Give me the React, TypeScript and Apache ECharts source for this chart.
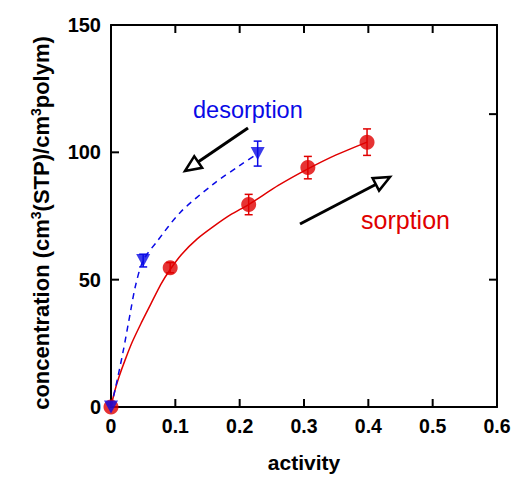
import React, { useEffect, useRef } from "react";
import * as echarts from "echarts";

// Measured sorption / desorption points: activity, concentration, error
const sorptionX = [0, 0.092, 0.214, 0.306, 0.398];
const sorptionY = [0, 54.7, 79.5, 94.0, 104.0];
const sorptionErr = [0, 2.0, 4.0, 4.4, 5.2];

const desorptionX = [0, 0.05, 0.228];
const desorptionY = [0, 57.5, 99.5];
const desorptionErr = [0, 2.5, 4.9];

// Fitted model curves
const sorptionFitX = [0, 0.005, 0.012, 0.022, 0.033, 0.047, 0.062, 0.077, 0.092, 0.11, 0.134, 0.16, 0.186, 0.214, 0.26, 0.306, 0.35, 0.398];
const sorptionFitY = [0, 5.5, 11.5, 18.5, 25.5, 33, 40.5, 48, 54, 60, 66, 71, 75.5, 79.5, 87, 93.5, 99, 104];

const desorptionFitX = [0, 0.007, 0.019, 0.03, 0.038, 0.05, 0.0715, 0.108, 0.159, 0.201, 0.228];
const desorptionFitY = [0, 7.5, 22, 37, 47.5, 57.5, 65, 76.5, 87.5, 95, 99.5];

// Inward frame ticks
const xTickValues = [0.1, 0.2, 0.3, 0.4, 0.5];
const leftTickValues = [50, 100];
const rightTickValues = [50, 115];

const RED = "#e00000";
const BLUE = "#0a0ae6";
const FONT = "Liberation Sans, Arial, Helvetica, sans-serif";
const X_MIN = 0;
const X_MAX = 0.6;
const Y_MIN = 0;
const Y_MAX = 150;

const zip = (xs: number[], ys: number[]) => xs.map((x, i) => [x, ys[i]]);
const zip3 = (xs: number[], ys: number[], es: number[]) =>
  xs.map((x, i) => [x, ys[i], es[i]]);

function errorBars(name: string, data: number[][], color: string) {
  return {
    name,
    type: "custom",
    xAxisIndex: 0,
    yAxisIndex: 0,
    clip: false,
    z: 3,
    data: data.filter((d) => d[2] > 0),
    renderItem: (_params: any, api: any) => {
      const x = api.value(0);
      const y = api.value(1);
      const e = api.value(2);
      const top = api.coord([x, y + e]);
      const bot = api.coord([x, y - e]);
      const hw = 4;
      const st = { stroke: color, lineWidth: 1.5 };
      return {
        type: "group",
        children: [
          { type: "line", shape: { x1: top[0], y1: top[1], x2: bot[0], y2: bot[1] }, style: st },
          { type: "line", shape: { x1: top[0] - hw, y1: top[1], x2: top[0] + hw, y2: top[1] }, style: st },
          { type: "line", shape: { x1: bot[0] - hw, y1: bot[1], x2: bot[0] + hw, y2: bot[1] }, style: st },
        ],
      };
    },
  };
}

// Tick marks drawn inward from the frame. Each datum: [x, y, dx, dy]
function frameTicks() {
  const data: number[][] = [];
  xTickValues.forEach((v) => {
    data.push([v, Y_MIN, 0, -1]);
    data.push([v, Y_MAX, 0, 1]);
  });
  leftTickValues.forEach((v) => data.push([X_MIN, v, 1, 0]));
  rightTickValues.forEach((v) => data.push([X_MAX, v, -1, 0]));
  return {
    name: "frame ticks",
    type: "custom",
    xAxisIndex: 0,
    yAxisIndex: 0,
    clip: false,
    silent: true,
    z: 6,
    data,
    renderItem: (_params: any, api: any) => {
      const p = api.coord([api.value(0), api.value(1)]);
      const L = 8;
      return {
        type: "line",
        shape: { x1: p[0], y1: p[1], x2: p[0] + api.value(2) * L, y2: p[1] + api.value(3) * L },
        style: { stroke: "#000", lineWidth: 2 },
      };
    },
  };
}

function arrow(tail: number[], tip: number[]) {
  const dx = tip[0] - tail[0];
  const dy = tip[1] - tail[1];
  const len = Math.hypot(dx, dy);
  const ux = dx / len;
  const uy = dy / len;
  const nx = -uy;
  const ny = ux;
  const L = 16;
  const W = 7;
  const bx = tip[0] - ux * L;
  const by = tip[1] - uy * L;
  return [
    {
      type: "line",
      shape: { x1: tail[0], y1: tail[1], x2: bx + ux * 2, y2: by + uy * 2 },
      style: { stroke: "#000", lineWidth: 3 },
    },
    {
      type: "polygon",
      shape: {
        points: [
          [tip[0], tip[1]],
          [bx + nx * W, by + ny * W],
          [bx - nx * W, by - ny * W],
        ],
      },
      style: { fill: "#fff", stroke: "#000", lineWidth: 2.5, lineJoin: "miter" },
    },
  ];
}

export default function App() {
  const ref = useRef<HTMLDivElement>(null);

  useEffect(() => {
    if (!ref.current) return;
    const chart = echarts.init(ref.current, null, { renderer: "svg" });

    const mkLine = () => ({ show: true, onZero: false, lineStyle: { color: "#000", width: 2 } });
    const labelStyle = { color: "#000", fontWeight: "bold", fontFamily: FONT };

    chart.setOption({
      animation: false,
      backgroundColor: "#fff",
      grid: { left: 111, right: 18, top: 25, bottom: 69 },
      xAxis: [
        {
          type: "value",
          min: X_MIN,
          max: X_MAX,
          interval: 0.1,
          position: "bottom",
          axisLine: mkLine(),
          axisTick: { show: false },
          axisLabel: { ...labelStyle, fontSize: 19.5, margin: 9 },
          splitLine: { show: false },
          name: "activity",
          nameLocation: "middle",
          nameGap: 45,
          nameTextStyle: { color: "#000", fontWeight: "bold", fontSize: 21, fontFamily: FONT },
        },
        {
          type: "value",
          min: X_MIN,
          max: X_MAX,
          interval: 0.1,
          position: "top",
          axisLine: mkLine(),
          axisTick: { show: false },
          axisLabel: { show: false },
          splitLine: { show: false },
        },
      ],
      yAxis: [
        {
          type: "value",
          min: Y_MIN,
          max: Y_MAX,
          interval: 50,
          position: "left",
          axisLine: mkLine(),
          axisTick: { show: false },
          axisLabel: { ...labelStyle, fontSize: 20, margin: 10 },
          splitLine: { show: false },
        },
        {
          type: "value",
          min: Y_MIN,
          max: Y_MAX,
          interval: 50,
          position: "right",
          axisLine: mkLine(),
          axisTick: { show: false },
          axisLabel: { show: false },
          splitLine: { show: false },
        },
      ],
      graphic: [
        {
          type: "text",
          x: 41,
          y: 223,
          rotation: Math.PI / 2,
          style: {
            text: "concentration (cm{s|3}(STP)/cm{s|3}polym)",
            fill: "#000",
            font: `bold 22px ${FONT}`,
            align: "center",
            verticalAlign: "middle",
            rich: {
              s: { fontSize: 14, fontWeight: "bold", fontFamily: FONT, padding: [0, 0, 10, 0], fill: "#000" },
            },
          },
        },
        {
          type: "text",
          x: 193,
          y: 110,
          style: { text: "desorption", fill: BLUE, font: `23.5px ${FONT}`, verticalAlign: "middle" },
        },
        {
          type: "text",
          x: 361,
          y: 220,
          style: { text: "sorption", fill: RED, font: `25px ${FONT}`, verticalAlign: "middle" },
        },
        ...arrow([248, 128], [185, 171]),
        ...arrow([300, 224], [390, 177]),
      ],
      series: [
        {
          name: "sorption fit",
          type: "line",
          data: zip(sorptionFitX, sorptionFitY),
          smooth: 0.2,
          showSymbol: false,
          symbol: "none",
          lineStyle: { color: RED, width: 1.5 },
          z: 2,
        },
        {
          name: "desorption fit",
          type: "line",
          data: zip(desorptionFitX, desorptionFitY),
          smooth: 0.3,
          showSymbol: false,
          symbol: "none",
          lineStyle: { color: BLUE, width: 1.5, type: [6, 5] },
          z: 2,
        },
        errorBars("sorption error", zip3(sorptionX, sorptionY, sorptionErr), RED),
        errorBars("desorption error", zip3(desorptionX, desorptionY, desorptionErr), BLUE),
        frameTicks(),
        {
          name: "sorption",
          type: "scatter",
          data: zip(sorptionX, sorptionY),
          symbol: "circle",
          symbolSize: 15,
          itemStyle: { color: RED },
          clip: false,
          z: 4,
        },
        {
          name: "desorption",
          type: "scatter",
          data: zip(desorptionX, desorptionY),
          symbol: "triangle",
          symbolRotate: 180,
          symbolSize: [14, 13],
          itemStyle: { color: BLUE },
          clip: false,
          z: 5,
        },
      ],
    });

    return () => chart.dispose();
  }, []);

  return (
    <div
      ref={ref}
      style={{ position: "fixed", left: 0, top: 0, width: 515, height: 478, background: "#fff" }}
    />
  );
}
